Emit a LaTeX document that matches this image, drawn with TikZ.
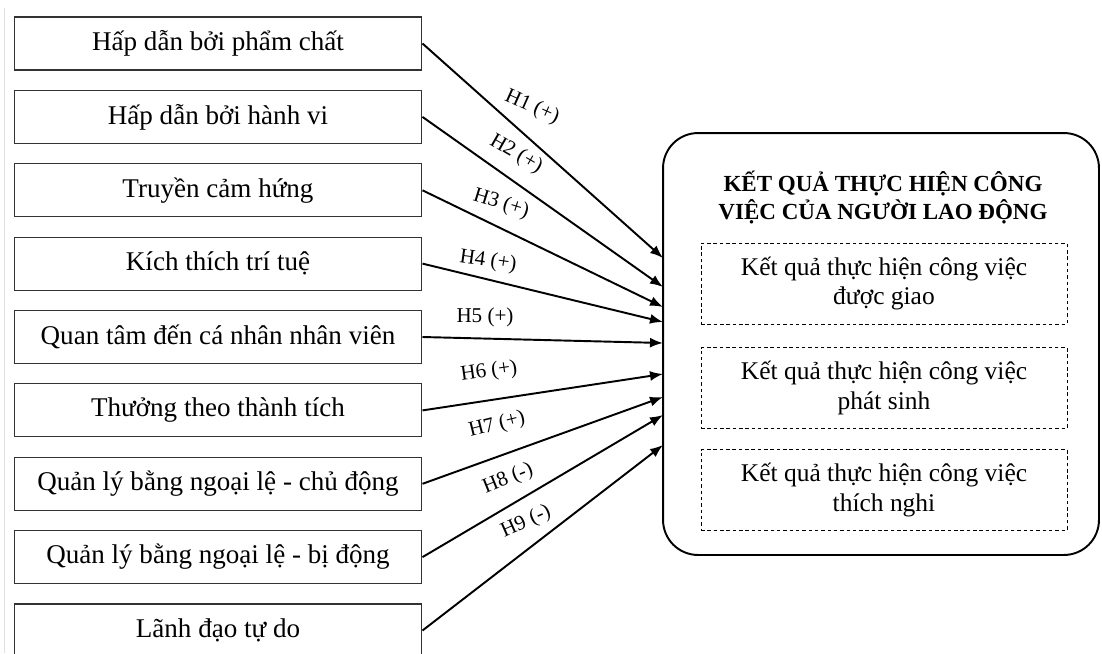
\documentclass[tikz,border=0pt]{standalone}
\usepackage{fontspec}
\setmainfont{Liberation Serif}
\usetikzlibrary{arrows.meta}
\begin{document}
\begin{tikzpicture}[x=0.02cm, y=-0.02cm,
  factor/.style={draw=black!80, line width=0.6pt, minimum width=8.16cm, minimum height=1.06cm, inner sep=0pt, font=\fontsize{15.4}{18}\selectfont},
  outcome/.style={draw, dash pattern=on 2pt off 1.6pt, line width=0.5pt, minimum width=7.32cm, minimum height=1.62cm, align=center, inner sep=0pt, font=\fontsize{14.5}{17}\selectfont},
  hyp/.style={font=\fontsize{12}{14}\selectfont, inner sep=0pt},
  arr/.style={-{Latex[length=0.26cm,width=0.2cm]}, line width=1.1pt}]
  \useasboundingbox (0,0) rectangle (1102,653);
  \draw[gray!25] (4,8) -- (4,653);
  % nine factors on the left
  \node[factor] (f1) at (218,43.5) {Hấp dẫn bởi phẩm chất};
  \node[factor] (f2) at (218,116.9) {Hấp dẫn bởi hành vi};
  \node[factor] (f3) at (218,190.3) {Truyền cảm hứng};
  \node[factor] (f4) at (218,263.6) {Kích thích trí tuệ};
  \node[factor] (f5) at (218,337) {Quan tâm đến cá nhân nhân viên};
  \node[factor] (f6) at (218,410.4) {Thưởng theo thành tích};
  \node[factor] (f7) at (218,483.8) {Quản lý bằng ngoại lệ - chủ động};
  \node[factor] (f8) at (218,557.1) {Quản lý bằng ngoại lệ - bị động};
  \node[factor] (f9) at (218,630.5) {Lãnh đạo tự do};
  % outcome box
  \node[draw, rounded corners=0.7cm, line width=1.1pt, minimum width=8.72cm, minimum height=8.44cm] (kq) at (881,344) {};
  \node[font=\bfseries\fontsize{13.1}{16.5}\selectfont, align=center] (title) at (883,197.5) {KẾT QUẢ THỰC HIỆN CÔNG\\VIỆC CỦA NGƯỜI LAO ĐỘNG};
  \node[outcome] (o1) at (884,283.5) {Kết quả thực hiện công việc\\được giao};
  \node[outcome] (o2) at (884,388) {Kết quả thực hiện công việc\\phát sinh};
  \node[outcome] (o3) at (884,490) {Kết quả thực hiện công việc\\thích nghi};
  % arrow ends
  \coordinate (t1) at (663,258);
  \coordinate (t2) at (663,287);
  \coordinate (t3) at (663,307);
  \coordinate (t4) at (663,322);
  \coordinate (t5) at (663,343);
  \coordinate (t6) at (663,374);
  \coordinate (t7) at (663,397);
  \coordinate (t8) at (663,415);
  \coordinate (t9) at (663,445);
  \draw[arr] (f1.east) -- (t1);
  \draw[arr] (f2.east) -- (t2);
  \draw[arr] (f3.east) -- (t3);
  \draw[arr] (f4.east) -- (t4);
  \draw[arr] (f5.east) -- (t5);
  \draw[arr] (f6.east) -- (t6);
  \draw[arr] (f7.east) -- (t7);
  \draw[arr] (f8.east) -- (t8);
  \draw[arr] (f9.east) -- (t9);
  % hypotheses
  \node[hyp, rotate=-24] (h1) at (532,107) {H1 (+)};
  \node[hyp, rotate=-30] (h2) at (516,154) {H2 (+)};
  \node[hyp, rotate=-17] (h3) at (501,204) {H3 (+)};
  \node[hyp, rotate=-8] (h4) at (488,261) {H4 (+)};
  \node[hyp] (h5) at (485,317) {H5 (+)};
  \node[hyp, rotate=8] (h6) at (489,372) {H6 (+)};
  \node[hyp, rotate=14] (h7) at (497,425) {H7 (+)};
  \node[hyp, rotate=22] (h8) at (508,479) {H8 (-)};
  \node[hyp, rotate=24] (h9) at (526,522) {H9 (-)};
\end{tikzpicture}
\end{document}
